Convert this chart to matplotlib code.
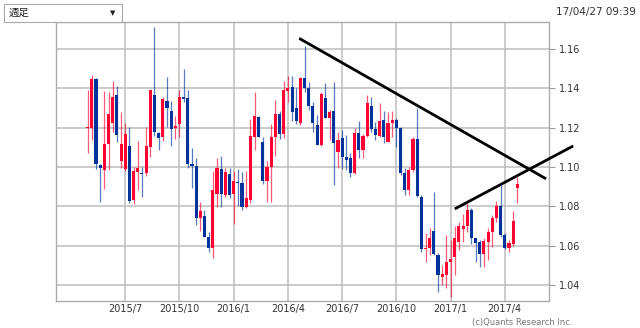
import matplotlib
matplotlib.use("Agg")
import matplotlib.pyplot as plt
import numpy as np
import pandas as pd
from matplotlib.patches import Rectangle

plt.rcParams['font.family'] = ['DejaVu Sans', 'Noto Sans CJK JP']

start_week = "2015-05-04"
opens = [1.1198, 1.1200, 1.1446, 1.1008, 1.0985, 1.1115, 1.1222, 1.1366, 1.1030, 1.0988,
         1.1107, 1.0832, 1.0973, 1.0972, 1.0968, 1.1103, 1.1365, 1.1175, 1.1150, 1.1335,
         1.1285, 1.1196, 1.1219, 1.1358, 1.1349, 1.1014, 1.1004, 1.0739, 1.0753, 1.0646,
         1.0586, 1.0861, 1.0988, 1.0860, 1.0967, 1.0861, 1.0925, 1.0917, 1.0798, 1.0832,
         1.1153, 1.1253, 1.1129, 1.0929, 1.1002, 1.1152, 1.1268, 1.1168, 1.1388, 1.1408,
         1.1298, 1.1224, 1.1453, 1.1400, 1.1309, 1.1216, 1.1112, 1.1349, 1.1251, 1.1285,
         1.1075, 1.1146, 1.1052, 1.1045, 1.0968, 1.1175, 1.1087, 1.1160, 1.1310, 1.1193,
         1.1160, 1.1240, 1.1125, 1.1222, 1.1238, 1.1200, 1.0970, 1.0882, 1.0985, 1.1142,
         1.0849, 1.0583, 1.0588, 1.0675, 1.0553, 1.0442, 1.0451, 1.0515, 1.0544, 1.0620,
         1.0685, 1.0698, 1.0781, 1.0637, 1.0617, 1.0560, 1.0620, 1.0671, 1.0739, 1.0802,
         1.0654, 1.0586, 1.0607, 1.0891]
highs = [1.1391, 1.1467, 1.1450, 1.1014, 1.1386, 1.1383, 1.1437, 1.1414, 1.1281, 1.1222,
         1.1202, 1.1000, 1.1130, 1.0998, 1.1205, 1.1392, 1.1714, 1.1180, 1.1355, 1.1460,
         1.1333, 1.1260, 1.1391, 1.1498, 1.1390, 1.1098, 1.1046, 1.0824, 1.0782, 1.0672,
         1.0980, 1.1045, 1.1057, 1.0997, 1.0997, 1.0980, 1.0988, 1.0976, 1.0980, 1.1244,
         1.1380, 1.1260, 1.1155, 1.1030, 1.1218, 1.1342, 1.1285, 1.1438, 1.1464, 1.1465,
         1.1400, 1.1459, 1.1617, 1.1434, 1.1332, 1.1262, 1.1380, 1.1425, 1.1290, 1.1434,
         1.1180, 1.1190, 1.1163, 1.1070, 1.1200, 1.1234, 1.1168, 1.1366, 1.1358, 1.1230,
         1.1327, 1.1285, 1.1281, 1.1283, 1.1250, 1.1205, 1.0993, 1.1000, 1.1154, 1.1300,
         1.0858, 1.0665, 1.0690, 1.0875, 1.0561, 1.0502, 1.0654, 1.0630, 1.0700, 1.0720,
         1.0759, 1.0815, 1.0790, 1.0640, 1.0629, 1.0637, 1.0688, 1.0756, 1.0827, 1.0908,
         1.0665, 1.0630, 1.0777, 1.0951]
lows = [1.1070, 1.1137, 1.0990, 1.0820, 1.0886, 1.0985, 1.1180, 1.1125, 1.0993, 1.0980,
        1.0815, 1.0810, 1.0885, 1.0850, 1.0955, 1.1050, 1.1160, 1.1086, 1.1132, 1.1203,
        1.1108, 1.1140, 1.1150, 1.1330, 1.0993, 1.0895, 1.0704, 1.0675, 1.0642, 1.0566,
        1.0539, 1.0798, 1.0798, 1.0849, 1.0845, 1.0708, 1.0803, 1.0781, 1.0790, 1.0815,
        1.1086, 1.1150, 1.0912, 1.0824, 1.0822, 1.1058, 1.1144, 1.1145, 1.1330, 1.1235,
        1.1217, 1.1215, 1.1383, 1.1290, 1.1180, 1.1110, 1.1107, 1.1247, 1.1137, 1.0908,
        1.0993, 1.0990, 1.0985, 1.0951, 1.0963, 1.1045, 1.1045, 1.1150, 1.1180, 1.1135,
        1.1150, 1.1120, 1.1125, 1.1150, 1.1100, 1.0960, 1.0858, 1.0858, 1.0975, 1.0850,
        1.0569, 1.0518, 1.0553, 1.0552, 1.0363, 1.0400, 1.0383, 1.0340, 1.0451, 1.0580,
        1.0620, 1.0670, 1.0607, 1.0519, 1.0493, 1.0494, 1.0527, 1.0595, 1.0719, 1.0646,
        1.0585, 1.0570, 1.0600, 1.0815]
closes = [1.1202, 1.1448, 1.1014, 1.0993, 1.1115, 1.1270, 1.1354, 1.1163, 1.1115, 1.1166,
          1.0827, 1.0981, 1.0993, 1.0967, 1.1107, 1.1390, 1.1180, 1.1146, 1.1344, 1.1302,
          1.1193, 1.1208, 1.1358, 1.1347, 1.1014, 1.1005, 1.0739, 1.0776, 1.0646, 1.0586,
          1.0883, 1.0993, 1.0861, 1.0973, 1.0857, 1.0929, 1.0917, 1.0798, 1.0840, 1.1157,
          1.1259, 1.1154, 1.0929, 1.1002, 1.1152, 1.1268, 1.1168, 1.1393, 1.1400, 1.1281,
          1.1234, 1.1453, 1.1403, 1.1309, 1.1223, 1.1112, 1.1369, 1.1251, 1.1278, 1.1120,
          1.1137, 1.1052, 1.1036, 1.0968, 1.1175, 1.1087, 1.1160, 1.1325, 1.1195, 1.1163,
          1.1233, 1.1155, 1.1225, 1.1239, 1.1200, 1.0970, 1.0882, 1.0985, 1.1142, 1.0855,
          1.0583, 1.0590, 1.0640, 1.0560, 1.0451, 1.0458, 1.0515, 1.0530, 1.0640, 1.0702,
          1.0698, 1.0781, 1.0637, 1.0612, 1.0560, 1.0623, 1.0672, 1.0739, 1.0802, 1.0654,
          1.0586, 1.0612, 1.0725, 1.0913]

y_ticks = [1.04, 1.06, 1.08, 1.10, 1.12, 1.14, 1.16]
y_tick_labels = ["1.04", "1.06", "1.08", "1.10", "1.12", "1.14", "1.16"]
x_tick_labels = ["2015/7", "2015/10", "2016/1", "2016/4", "2016/7", "2016/10", "2017/1", "2017/4"]

# trend lines (week index, price)
line1_x = [50.7, 109.9]
line1_y = [1.1654, 1.0940]
line2_x = [88.0, 116.4]
line2_y = [1.0787, 1.1107]

weeks = pd.date_range(start_week, periods=len(opens), freq="7D")
idx = np.arange(len(opens))

# grid positions: first week starting in each labelled month
tick_pos = []
for lab in x_tick_labels:
    y, m = lab.split("/")
    y, m = int(y), int(m)
    mask = (weeks.year == y) & (weeks.month == m)
    tick_pos.append(int(np.argmax(mask)))

RED = "#ff0033"
BLUE = "#003399"

W, H = 640, 328
fig = plt.figure(figsize=(W / 100, H / 100), dpi=100)
ax = fig.add_axes([56 / W, (H - 301) / H, (549 - 56) / W, (301 - 22) / H])

ax.set_xlim(-7.6, 110.6)
ax.set_ylim(1.0319, 1.1737)

ax.set_yticks(y_ticks)
ax.set_yticklabels(y_tick_labels)
ax.set_xticks(tick_pos)
ax.set_xticklabels(x_tick_labels)
ax.yaxis.tick_right()
ax.tick_params(axis="y", length=4, color="#999999", labelsize=7, labelcolor="#333333", pad=3)
ax.tick_params(axis="x", length=0, labelsize=7, labelcolor="#333333", pad=2.5)
ax.grid(True, color="#bdbdbd", linewidth=1.1)
ax.set_axisbelow(True)
for s in ax.spines.values():
    s.set_color("#aaaaaa")
    s.set_linewidth(1.0)

bw = 0.75
for i in idx:
    o, h, l, c = opens[i], highs[i], lows[i], closes[i]
    col = RED if c >= o else BLUE
    ax.vlines(i, l, h, color=col, linewidth=0.9, alpha=0.65, zorder=3)
    bot = min(o, c)
    ht = max(abs(c - o), 0.0004)
    ax.add_patch(Rectangle((i - bw / 2, bot), bw, ht, facecolor=col, edgecolor="none", zorder=4))

ax.plot(line1_x, line1_y, color="black", linewidth=2.0, solid_capstyle="butt", zorder=6, clip_on=False)
ax.plot(line2_x, line2_y, color="black", linewidth=2.0, solid_capstyle="butt", zorder=6, clip_on=False)

# header widgets
box = Rectangle((4 / W, (H - 22) / H), 118 / W, 18 / H, transform=fig.transFigure,
                facecolor="white", edgecolor="#aaaaaa", linewidth=0.8)
fig.patches.append(box)
fig.text(9 / W, (H - 13) / H, "週足", fontsize=7.5, va="center", ha="left",
         family=["Noto Sans CJK JP", "DejaVu Sans"], color="#222222")
fig.text(113 / W, (H - 13) / H, "▼", fontsize=5, va="center", ha="center", color="#222222")
fig.text(636 / W, (H - 12) / H, "17/04/27 09:39", fontsize=7.5, va="center", ha="right", color="#333333")
fig.text(572 / W, (H - 322.5) / H, "(c)Quants Research Inc.", fontsize=6, va="center", ha="right", color="#777777")

fig.savefig("out.png", dpi=100)
